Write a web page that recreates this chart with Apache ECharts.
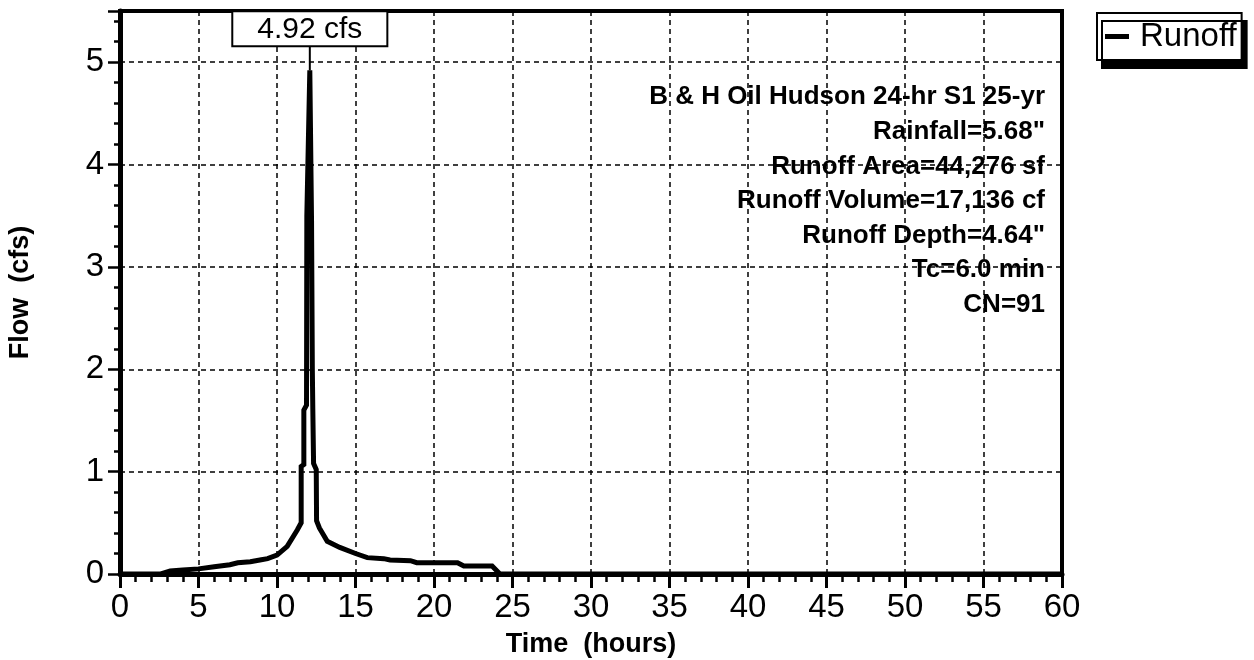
<!DOCTYPE html>
<html>
<head>
<meta charset="utf-8">
<title>Runoff hydrograph</title>
<script src="https://cdn.jsdelivr.net/npm/echarts@6/dist/echarts.min.js"></script>
<style>
  html, body { margin: 0; padding: 0; background: #fff; }
  #chart { width: 1254px; height: 660px; }
</style>
</head>
<body>
<div id="chart"></div>
<script>
// Runoff hydrograph: time (hours) against flow (cfs)
const hours = [0, 2.6, 3.2, 4, 5, 6, 7, 7.5, 8.3, 9, 9.4, 10, 10.65, 11.29, 11.54, 11.54, 11.71, 11.71, 11.88, 11.9, 12.09,
  12.2, 12.25, 12.28, 12.33, 12.5, 12.52, 12.7, 13.2, 14, 15, 15.75, 16.8, 17.2, 18.5, 18.9, 21.5, 21.9, 23.7, 24.2, 60];
const flows = [0, 0, 0.03, 0.04, 0.05, 0.07, 0.09, 0.11, 0.12, 0.14, 0.15, 0.185, 0.27, 0.43, 0.5, 1.05, 1.07, 1.6, 1.65, 3.5, 4.92,
  3.45, 2.0, 1.62, 1.08, 1.02, 0.52, 0.45, 0.32, 0.26, 0.2, 0.16, 0.15, 0.137, 0.13, 0.11, 0.11, 0.078, 0.078, 0, 0];

const seriesName = 'Runoff';
const xName = 'Time  (hours)';
const yName = 'Flow  (cfs)';
const notes = [
  'B & H Oil Hudson 24-hr S1 25-yr',
  'Rainfall=5.68"',
  'Runoff Area=44,276 sf',
  'Runoff Volume=17,136 cf',
  'Runoff Depth=4.64"',
  'Tc=6.0 min',
  'CN=91'
];

const FONT = '"Liberation Sans", Arial, Helvetica, sans-serif';
const chart = echarts.init(document.getElementById('chart'), null, { renderer: 'canvas' });

chart.setOption({
  animation: false,
  backgroundColor: '#fff',
  textStyle: { fontFamily: FONT, color: '#000' },
  grid: {
    left: 120, right: 192, top: 11, bottom: 86,
    outerBoundsMode: 'none',
    containLabel: false,
    show: true, borderColor: '#000', borderWidth: 4, backgroundColor: 'transparent'
  },
  legend: {
    data: [seriesName],
    left: 1097, top: 13,
    orient: 'vertical',
    icon: 'rect',
    itemWidth: 24, itemHeight: 5,
    padding: [7, 5, 7, 8],
    backgroundColor: '#fff',
    borderColor: '#000', borderWidth: 2, borderRadius: 0,
    shadowColor: '#000', shadowBlur: 0, shadowOffsetX: 5, shadowOffsetY: 8,
    itemStyle: { color: '#000' },
    textStyle: { fontSize: 33, color: '#000', fontFamily: FONT, padding: [0, 0, 0, 6] }
  },
  xAxis: {
    type: 'value', min: 0, max: 60, interval: 5,
    name: xName, nameLocation: 'middle', nameGap: 57,
    nameTextStyle: { fontSize: 27, fontWeight: 'bold', color: '#000', fontFamily: FONT },
    axisLine: { onZero: false, lineStyle: { color: '#000', width: 5 } },
    axisTick: { show: true, inside: false, length: 14, lineStyle: { color: '#000', width: 3 } },
    minorTick: { show: true, splitNumber: 5, length: 8, lineStyle: { color: '#000', width: 2.5 } },
    axisLabel: { fontSize: 33, color: '#000', margin: 17, fontFamily: FONT },
    splitLine: { show: true, lineStyle: { color: '#000', width: 1.5, type: [5, 4] } }
  },
  yAxis: {
    type: 'value', min: 0, max: 5.5, interval: 1,
    name: yName, nameLocation: 'middle', nameGap: 86, nameRotate: 90,
    nameTextStyle: { fontSize: 27, fontWeight: 'bold', color: '#000', fontFamily: FONT, padding: [0, 0, 0, 0] },
    axisLine: { onZero: false, lineStyle: { color: '#000', width: 5 } },
    axisTick: { show: true, inside: false, length: 12, lineStyle: { color: '#000', width: 2.5 } },
    minorTick: { show: true, splitNumber: 5, length: 6, lineStyle: { color: '#000', width: 2.5 } },
    axisLabel: {
      fontSize: 33, color: '#000', margin: 16, fontFamily: FONT,
      formatter: v => (Number.isInteger(v) ? String(v) : '')
    },
    splitLine: { show: true, lineStyle: { color: '#000', width: 1.5, type: [5, 4] } }
  },
  graphic: [{
    type: 'text',
    x: 1045, y: 80,
    z: 10,
    style: {
      text: notes.join('\n'),
      textAlign: 'right',
      textVerticalAlign: 'top',
      font: 'bold 26px ' + FONT,
      lineHeight: 34.6,
      fill: '#000'
    }
  }],
  series: [{
    name: seriesName,
    type: 'line',
    data: hours.map((h, i) => [h, flows[i]]),
    showSymbol: false,
    symbol: 'none',
    lineStyle: { color: '#000', width: 5, join: 'miter' },
    itemStyle: { color: '#000' },
    z: 5,
    markPoint: {
      data: [{ type: 'max', name: 'Peak' }],
      symbol: 'rect',
      symbolSize: [2, 25],
      symbolOffset: [0, '-50%'],
      itemStyle: { color: '#000' },
      label: {
        show: true,
        position: 'top',
        distance: 0,
        formatter: p => p.value.toFixed(2) + ' cfs',
        fontSize: 30,
        lineHeight: 30,
        color: '#000',
        fontFamily: FONT,
        backgroundColor: '#fff',
        borderColor: '#000',
        borderWidth: 2,
        padding: [2, 24, 1, 24]
      }
    }
  }]
});
</script>
</body>
</html>
